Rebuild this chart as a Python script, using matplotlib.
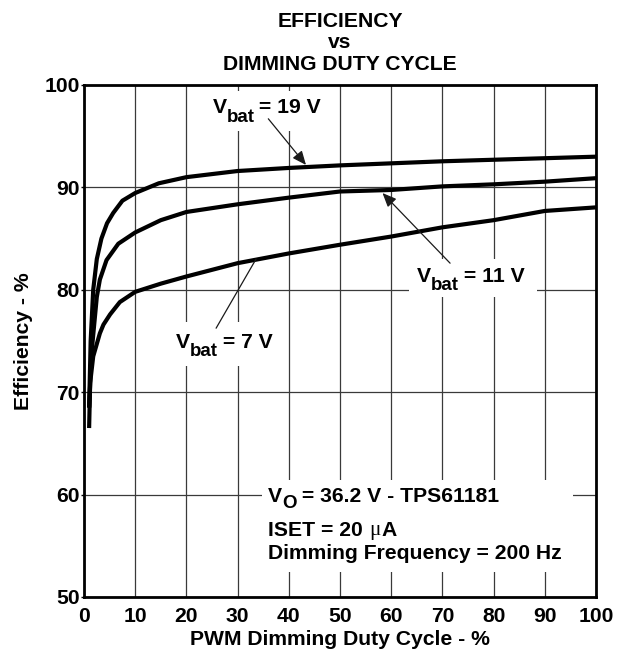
import matplotlib
matplotlib.use("Agg")
import matplotlib.pyplot as plt
from matplotlib.patches import Rectangle

plt.rcParams['font.family'] = ['Liberation Sans', 'DejaVu Sans']

# ---- data ----
duty_19 = [1, 1.3, 1.8, 2.5, 3.4, 4.5, 5.7, 7.5, 10, 14.6, 20, 30, 40, 50, 60, 70, 80, 90, 100]
eff_19 = [68.5, 75, 80, 83, 85, 86.5, 87.5, 88.7, 89.45, 90.4, 91.0, 91.6, 91.9, 92.15, 92.35, 92.55, 92.7, 92.85, 93.0]

duty_11 = [1, 1.5, 2.5, 3.1, 4.4, 6.7, 10, 15, 20, 30, 40, 50, 60, 70, 80, 90, 100]
eff_11 = [68.5, 74, 79.3, 81.0, 82.9, 84.5, 85.6, 86.8, 87.6, 88.35, 89.0, 89.6, 89.75, 90.1, 90.3, 90.56, 90.9]

duty_7 = [1, 1.2, 1.8, 3.1, 3.8, 5.1, 7.0, 10, 15, 20, 30, 40, 50, 60, 70, 80, 90, 100]
eff_7 = [66.5, 70.9, 73.5, 75.75, 76.6, 77.6, 78.8, 79.8, 80.6, 81.3, 82.6, 83.55, 84.4, 85.2, 86.1, 86.8, 87.7, 88.05]

x_ticks = [0, 10, 20, 30, 40, 50, 60, 70, 80, 90, 100]
y_ticks = [50, 60, 70, 80, 90, 100]

title_lines = ['EFFICIENCY', 'vs', 'DIMMING DUTY CYCLE']
x_label = 'PWM Dimming Duty Cycle - %'
y_label = 'Efficiency - %'

FS = 15.2
SFS = 13.5

fig = plt.figure(figsize=(6.28, 6.62), dpi=100)
ax = fig.add_axes([84/628, 1 - 597/662, 512/628, 512/662])

ax.set_xlim(0, 100)
ax.set_ylim(50, 100)
ax.set_xticks(x_ticks)
ax.set_yticks(y_ticks)
ax.grid(True, color='#3a3a3a', lw=0.9, zorder=0)
ax.set_axisbelow(True)
for s in ax.spines.values():
    s.set_linewidth(2.0)
    s.set_zorder(6)
ax.tick_params(axis='x', length=0, pad=7, labelsize=FS)
ax.tick_params(axis='y', length=2, width=1, pad=1.2, labelsize=FS)
for lab in ax.get_xticklabels() + ax.get_yticklabels():
    lab.set_fontweight('bold')
ax.set_xlabel(x_label, fontsize=FS, fontweight='bold', labelpad=3)
ax.set_ylabel(y_label, fontsize=FS, fontweight='bold', labelpad=8)

# white label boxes that interrupt the grid
boxes = [(23.6, 95.5, 24.8, 3.95), (63.5, 79.3, 25.0, 3.7),
         (15.8, 72.56, 22.9, 4.34), (34.8, 52.4, 60.7, 9.0)]
for bx, by, bw, bh in boxes:
    ax.add_patch(Rectangle((bx, by), bw, bh, facecolor='white', edgecolor='none', zorder=1))

for xs, ys in [(duty_19, eff_19), (duty_11, eff_11), (duty_7, eff_7)]:
    ax.plot(xs, ys, color='black', lw=3.0, solid_capstyle='butt', zorder=3)


def vlabel(x, y, sub, rest, drop=6):
    t1 = ax.text(x, y, 'V', fontsize=FS, fontweight='bold', ha='left', va='baseline', zorder=7)
    t2 = ax.annotate(sub, xy=(1, 0), xycoords=t1, xytext=(0, -drop), textcoords='offset points',
                     fontsize=SFS, fontweight='bold', ha='left', va='bottom', zorder=7)
    ax.annotate(rest, xy=(1, 0), xycoords=t2, xytext=(-1, drop), textcoords='offset points',
                fontsize=FS, fontweight='bold', ha='left', va='bottom', zorder=7)


vlabel(25.1, 97.24, 'bat', ' = 19 V')
vlabel(65.0, 80.8, 'bat', ' = 11 V')
vlabel(17.97, 74.36, 'bat', ' = 7 V')

arrow_kw = dict(arrowstyle='-|>,head_length=0.7,head_width=0.3', mutation_scale=12,
                color='#1a1a1a', lw=0.9, shrinkA=0, shrinkB=0)
ax.annotate('', xy=(43.36, 92.19), xytext=(36.0, 96.7), arrowprops=arrow_kw, zorder=4)
ax.annotate('', xy=(58.3, 89.45), xytext=(71.5, 82.6), arrowprops=arrow_kw, zorder=4)
ax.annotate('', xy=(33.6, 83.0), xytext=(25.8, 76.25),
            arrowprops=dict(arrowstyle='-', color='#1a1a1a', lw=0.9, shrinkA=0, shrinkB=0), zorder=4)

# condition text
vlabel(36.0, 59.3, 'O', ' = 36.2 V - TPS61181', drop=4.5)
t = ax.text(36.0, 55.96, 'ISET = 20', fontsize=FS, fontweight='bold', ha='left', va='baseline', zorder=7)
tm = ax.annotate('\u03bc', xy=(1, 0), xycoords=t, xytext=(4.5, 0), textcoords='offset points',
                 fontsize=FS, fontweight='normal', family=['Liberation Serif', 'DejaVu Serif'],
                 ha='left', va='bottom', zorder=7)
ax.annotate('A', xy=(1, 0), xycoords=tm, xytext=(0.5, 0), textcoords='offset points',
            fontsize=FS, fontweight='bold', ha='left', va='bottom', zorder=7)
ax.text(36.0, 53.71, 'Dimming Frequency = 200 Hz', fontsize=FS, fontweight='bold',
        ha='left', va='baseline', zorder=7)

# title
for line, yb in zip(title_lines, [27, 48, 70]):
    fig.text(340/628, 1 - yb/662, line, fontsize=FS, fontweight='bold', ha='center', va='baseline')

fig.savefig('out.png', dpi=100)
